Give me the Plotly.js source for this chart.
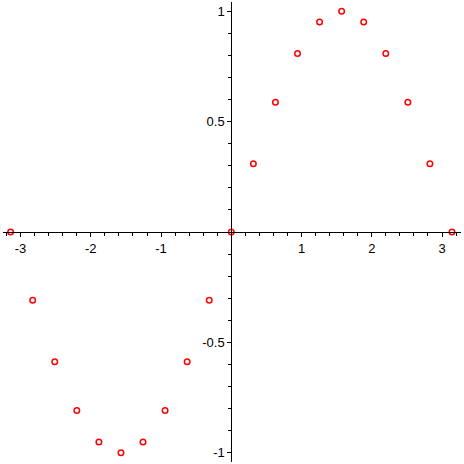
<!DOCTYPE html>
<html>
<head>
<meta charset="utf-8">
<script src="https://cdn.plot.ly/plotly-3.0.1.min.js"></script>
<style>html,body{margin:0;padding:0;background:#fff}#chart{width:464px;height:464px}</style>
</head>
<body>
<div id="chart"></div>
<script>
var xValues = [-3.1416, -2.8274, -2.5133, -2.1991, -1.8850, -1.5708, -1.2566, -0.9425, -0.6283, -0.3142,
               0, 0.3142, 0.6283, 0.9425, 1.2566, 1.5708, 1.8850, 2.1991, 2.5133, 2.8274, 3.1416];
var yValues = [0, -0.309, -0.588, -0.809, -0.951, -1, -0.951, -0.809, -0.588, -0.309,
               0, 0.309, 0.588, 0.809, 0.951, 1, 0.951, 0.809, 0.588, 0.309, 0];
var xTicks = [-3, -2, -1, 1, 2, 3];
var xTickText = ['-3', '-2', '-1', '1', '2', '3'];
var yTicks = [-1, -0.5, 0.5, 1];
var yTickText = ['-1', '-0.5', '0.5', '1'];

var xRange = [-3.25, 3.27];
var yRange = [-1.042, 1.042];

var trace = {
  x: xValues, y: yValues, type: 'scatter', mode: 'markers',
  marker: {symbol: 'circle-open', size: 5.5, color: '#ff0000', line: {width: 1.5, color: '#ff0000'}},
  hoverinfo: 'none'
};

var fontDef = {family: 'Liberation Sans, Arial, sans-serif', size: 13, color: '#000'};

var layout = {
  width: 464, height: 464,
  margin: {l: 3, r: 3, t: 2, b: 2},
  paper_bgcolor: '#fff', plot_bgcolor: '#fff',
  showlegend: false,
  xaxis: {
    range: xRange, anchor: 'free', position: (0 - yRange[0]) / (yRange[1] - yRange[0]),
    showline: true, linecolor: '#000', linewidth: 1,
    showgrid: false, zeroline: false,
    tickmode: 'array', tickvals: xTicks, ticktext: xTickText,
    ticks: 'outside', ticklen: 4, tickcolor: '#000', tickwidth: 1,
    tickfont: fontDef, automargin: false,
    minor: {dtick: 0.2, tick0: 0, ticks: 'outside', ticklen: 3, tickcolor: '#000', tickwidth: 1, showgrid: false}
  },
  yaxis: {
    range: yRange, anchor: 'free', position: (0 - xRange[0]) / (xRange[1] - xRange[0]),
    showline: true, linecolor: '#000', linewidth: 1,
    showgrid: false, zeroline: false,
    tickmode: 'array', tickvals: yTicks, ticktext: yTickText,
    ticks: 'outside', ticklen: 4, tickcolor: '#000', tickwidth: 1,
    tickfont: fontDef, automargin: false,
    minor: {dtick: 0.1, tick0: 0, ticks: 'outside', ticklen: 3, tickcolor: '#000', tickwidth: 1, showgrid: false}
  }
};

Plotly.newPlot('chart', [trace], layout, {staticPlot: true, displayModeBar: false});
</script>
</body>
</html>
